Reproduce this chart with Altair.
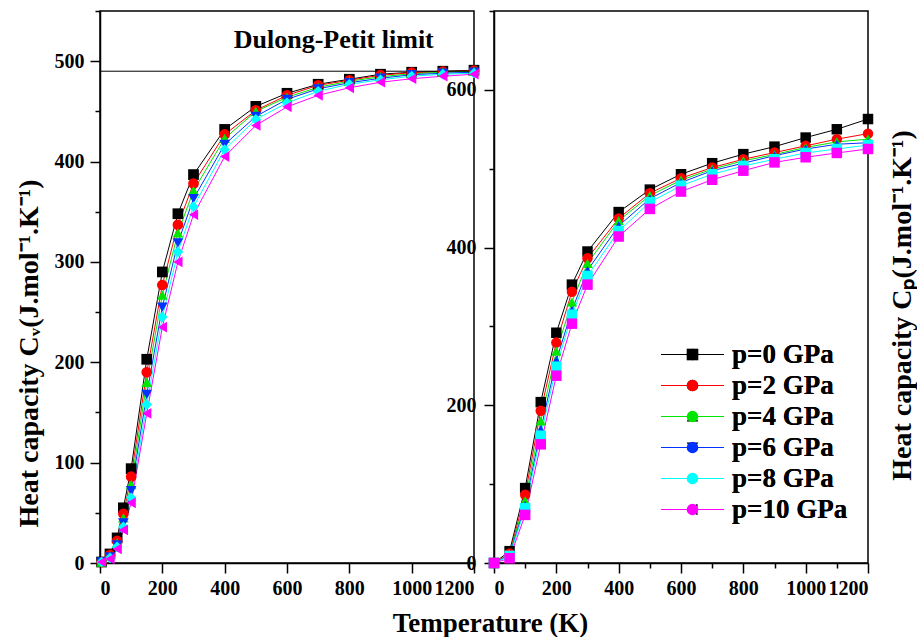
import altair as alt
import pandas as pd

# ---------------- data ----------------
series = ["p=0 GPa", "p=2 GPa", "p=4 GPa", "p=6 GPa", "p=8 GPa", "p=10 GPa"]
colors = ["#000000", "#ff0000", "#00e600", "#0033ff", "#00ffff", "#ff00ff"]
shapes_cv = ["square", "circle", "triangle-up", "triangle-down", "diamond", "triangle-left"]
shapes_cp = ["square", "circle", "triangle-up", "triangle-up", "square", "square"]

T_cv = [5, 32, 55, 75, 100, 150, 200, 250, 300, 400, 500, 600, 700, 800, 900, 1000, 1100, 1200]
cv_p0 = [1, 9, 25, 55, 94, 203, 290, 348, 387, 432, 455, 468, 477, 482, 487, 489, 490, 491]
cv_p2 = [1, 8, 22, 49, 86, 190, 277, 337, 378, 427, 451, 466, 476, 481, 486, 488.5, 489.5, 490.5]
cv_p4 = [1, 7, 20, 45, 78, 180, 267, 329, 371, 423, 450, 464, 474, 480, 484.5, 487.5, 489, 490]
cv_p6 = [1, 6, 18, 40, 72, 168, 255, 319, 363, 417, 445, 462, 472.5, 478.5, 483, 486.5, 488, 489]
cv_p8 = [1, 5, 16, 36, 65, 158, 245, 310, 355, 412, 442, 458.5, 470, 477, 481.5, 485, 487, 488]
cv_p10 = [1, 4, 14, 33, 60, 149, 235, 300, 347, 405, 436, 454.5, 466, 473.5, 479, 482.5, 485, 487]
cv_all = [cv_p0, cv_p2, cv_p4, cv_p6, cv_p8, cv_p10]

T_cp = [0, 50, 100, 150, 200, 250, 300, 400, 500, 600, 700, 800, 900, 1000, 1100, 1200]
cp_p0 = [0, 15, 95, 204, 292, 353, 395, 445, 473.5, 493, 507, 518.5, 528, 539.5, 550, 563]
cp_p2 = [0, 12, 86.5, 193, 279.5, 344, 386.5, 437, 469, 488, 501.5, 512, 520.5, 529, 537.5, 544.5]
cp_p4 = [0, 11, 79, 180, 268.5, 331, 380, 434, 466, 485.5, 499.5, 510, 518, 527, 534, 537.5]
cp_p6 = [0, 10, 73, 169, 257, 320.5, 371, 427.5, 462, 482.5, 497.5, 507, 516.5, 525, 531, 533]
cp_p8 = [0, 9, 69.5, 161.5, 249, 315, 364, 421, 457.5, 478.5, 493, 503.5, 512, 520, 525, 530]
cp_p10 = [0, 6, 61, 150.5, 237.5, 303.5, 353, 414, 449, 471, 486, 497.5, 508, 514.5, 520, 525]
cp_all = [cp_p0, cp_p2, cp_p4, cp_p6, cp_p8, cp_p10]

dulong_petit = 490
annotation = {"T": [750], "v": [521], "text": ["Dulong-Petit limit"]}

FONT = "Liberation Serif"

# ---------------- tables ----------------
df_cv = pd.DataFrame([
    {"T": t, "v": v, "series": s, "label": s}
    for s, vals in zip(series, cv_all) for t, v in zip(T_cv, vals)
])
df_cp = pd.DataFrame([
    {"T": t, "v": v, "series": s, "label": s}
    for s, vals in zip(series, cp_all) for t, v in zip(T_cp, vals)
])

W, H = 374, 552


def x_axis(title, **kw):
    return alt.Axis(
        values=list(range(0, 1201, 100)),
        labelExpr="datum.value % 200 === 0 ? format(datum.value, 'd') : ''",
        tickSize={"condition": {"test": "datum.value % 200 !== 0", "value": 5}, "value": 10},
        labelPadding=5,
        title=title,
        **kw,
    )


def y_axis(step_major, top, title, **kw):
    return alt.Axis(
        values=list(range(0, top + 1, step_major // 2)),
        labelExpr=f"datum.value % {step_major} === 0 ? format(datum.value, 'd') : ''",
        tickSize={"condition": {"test": f"datum.value % {step_major} !== 0", "value": 5}, "value": 10},
        title=title,
        titleAngle=270,
        titleAlign="center",
        titleBaseline="middle",
        titleFontSize=28,
        **kw,
    )


LEG_X, LEG_Y = 579, 330
# legend of the connecting lines: a horizontal segment, labels hidden
line_legend = alt.Legend(
    orient="none", legendX=LEG_X, legendY=LEG_Y, title=None,
    symbolType="M-6.3,0H6.3", symbolSize=100, symbolStrokeWidth=1.2,
    labelFontSize=27, labelFont=FONT, labelFontWeight="bold", labelOpacity=0,
    labelOffset=26, rowPadding=3, padding=0,
)
# legend of the markers, drawn over the segments
point_legend = alt.Legend(
    orient="none", legendX=LEG_X, legendY=LEG_Y, title=None,
    symbolSize=135, symbolStrokeWidth=0,
    labelFontSize=27, labelFont=FONT, labelFontWeight="bold", labelColor="black",
    labelOffset=26, rowPadding=3, padding=0,
)

# ---------------- left panel: Cv ----------------
xl = alt.X("T:Q", scale=alt.Scale(domain=[0, 1200], nice=False),
           axis=x_axis("Temperature (K)", titleX=390, titleY=60, titleAlign="center",
                       titleBaseline="middle", titleFontSize=27))
yl = alt.Y("v:Q", scale=alt.Scale(domain=[0, 550], nice=False),
           axis=y_axis(100, 550, "Heat capacity C\u1d65(J.mol\u207b\u00b9.K\u207b\u00b9)",
                       titleX=-71, titleY=342, labelPadding=6))

base_l = alt.Chart(df_cv)
lines_l = base_l.mark_line(strokeWidth=1).encode(
    x=xl, y=yl,
    stroke=alt.Stroke("series:N", sort=series, scale=alt.Scale(range=colors), legend=line_legend),
)
points_l = base_l.mark_point(filled=True, size=115, opacity=1).encode(
    x=xl, y=yl,
    fill=alt.Fill("label:N", sort=series, scale=alt.Scale(range=colors), legend=point_legend),
    shape=alt.Shape("label:N", sort=series, scale=alt.Scale(range=shapes_cv), legend=point_legend),
)
rule_l = alt.Chart(pd.DataFrame({"v": [dulong_petit]})).mark_rule(
    color="black", strokeWidth=1).encode(y=alt.Y("v:Q", scale=alt.Scale(domain=[0, 550], nice=False)))
text_l = alt.Chart(pd.DataFrame(annotation)).mark_text(
    font=FONT, fontSize=26, fontWeight="bold", color="black").encode(
    x=alt.X("T:Q"), y=alt.Y("v:Q"), text="text:N")

left = alt.layer(lines_l, rule_l, points_l, text_l).properties(width=W, height=H)

# ---------------- right panel: Cp ----------------
xr = alt.X("T:Q", scale=alt.Scale(domain=[0, 1200], nice=False), axis=x_axis(None))
yr = alt.Y("v:Q", scale=alt.Scale(domain=[0, 700], nice=False),
           axis=y_axis(200, 700, "Heat capacity C\u209a(J.mol\u207b\u00b9.K\u207b\u00b9)",
                       titleX=408, titleY=294, labelPadding=8))

base_r = alt.Chart(df_cp)
lines_r = base_r.mark_line(strokeWidth=1).encode(
    x=xr, y=yr,
    stroke=alt.Stroke("series:N", sort=series, scale=alt.Scale(range=colors), legend=None),
)
points_r = base_r.mark_point(filled=True, size=110, opacity=1).encode(
    x=xr, y=yr,
    fill=alt.Fill("label:N", sort=series, scale=alt.Scale(range=colors), legend=None),
    shape=alt.Shape("label:N", sort=series, scale=alt.Scale(range=shapes_cp), legend=None),
)
right = alt.layer(lines_r, points_r).properties(width=W, height=H)

chart = alt.hconcat(left, right, spacing=20, bounds="flush").resolve_scale(
    stroke="independent", fill="independent", shape="independent"
).properties(
    padding={"left": 14, "top": 9, "right": 0, "bottom": 0},
    background="white",
).configure_view(
    stroke="black", strokeWidth=1.5
).configure_axis(
    domainColor="black", domainWidth=1.5, tickColor="black", tickWidth=1.5,
    labelFont=FONT, labelFontSize=20, labelFontWeight="bold", labelColor="black",
    titleFont=FONT, titleFontSize=26, titleFontWeight="bold", titleColor="black",
    grid=False,
)

chart.save("out.html", embed_options={"renderer": "svg", "actions": False})
